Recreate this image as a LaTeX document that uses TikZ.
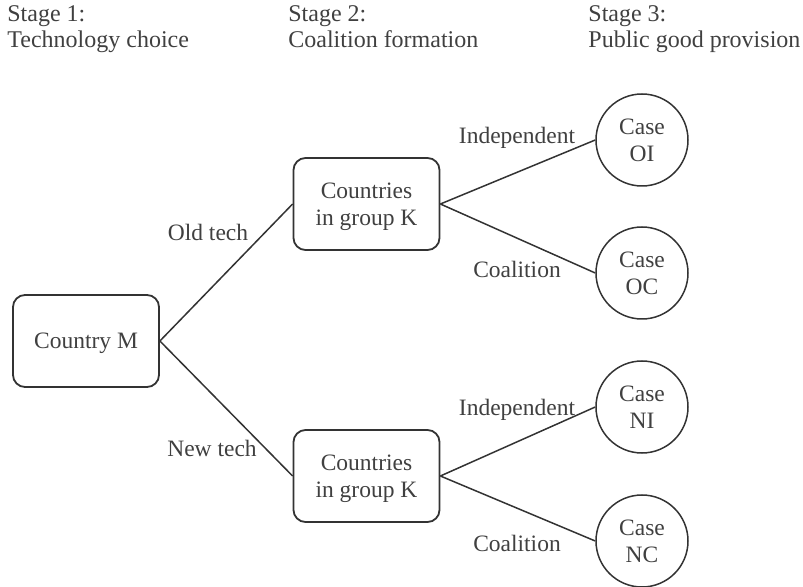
\documentclass[tikz,border=0pt]{standalone}
\usepackage{fontspec}
\setmainfont{Liberation Serif}
\definecolor{ln}{HTML}{333333}
\definecolor{tx}{HTML}{404040}
\begin{document}
\begin{tikzpicture}[x=0.5pt,y=-0.5pt,
  every node/.style={font=\fontsize{11.75}{13.5}\selectfont, text=tx, text depth=0pt},
  boxnode/.style={draw=ln, line width=0.9pt, rounded corners=6pt, minimum width=73pt, minimum height=46pt, align=center, inner sep=0pt},
  casenode/.style={draw=ln, line width=0.75pt, circle, minimum size=46pt, align=center, inner sep=0pt},
  edge/.style={draw=ln, line width=0.75pt},
  lbl/.style={inner sep=0pt},
  hdr/.style={anchor=west, align=left, inner sep=0pt, font=\fontsize{12}{13}\selectfont}]
\useasboundingbox (0,0) rectangle (803,587);
\node[hdr] (h1) at (7,27) {Stage 1:\\Technology choice};
\node[hdr] (h2) at (288,27) {Stage 2:\\Coalition formation};
\node[hdr] (h3) at (588,27) {Stage 3:\\Public good provision};
\node[boxnode] (M) at (86,341) {Country M};
\node[boxnode] (K1) at (366.5,204) {Countries\\in group K};
\node[boxnode] (K2) at (366.5,476) {Countries\\in group K};
\node[casenode] (OI) at (642,140) {Case\\OI};
\node[casenode] (OC) at (642,273) {Case\\OC};
\node[casenode] (NI) at (642,407) {Case\\NI};
\node[casenode] (NC) at (642,541) {Case\\NC};
\draw[edge] (M.east) -- (K1.west);
\draw[edge] (M.east) -- (K2.west);
\draw[edge] (K1.east) -- (OI.west);
\draw[edge] (K1.east) -- (OC.west);
\draw[edge] (K2.east) -- (NI.west);
\draw[edge] (K2.east) -- (NC.west);
\node[lbl] (lo) at (208,232) {Old tech};
\node[lbl] (lnw) at (212,448) {New tech};
\node[lbl] (li1) at (517,135) {Independent};
\node[lbl] (lc1) at (517,269) {Coalition};
\node[lbl] (li2) at (517,407) {Independent};
\node[lbl] (lc2) at (517,543) {Coalition};
\end{tikzpicture}
\end{document}
